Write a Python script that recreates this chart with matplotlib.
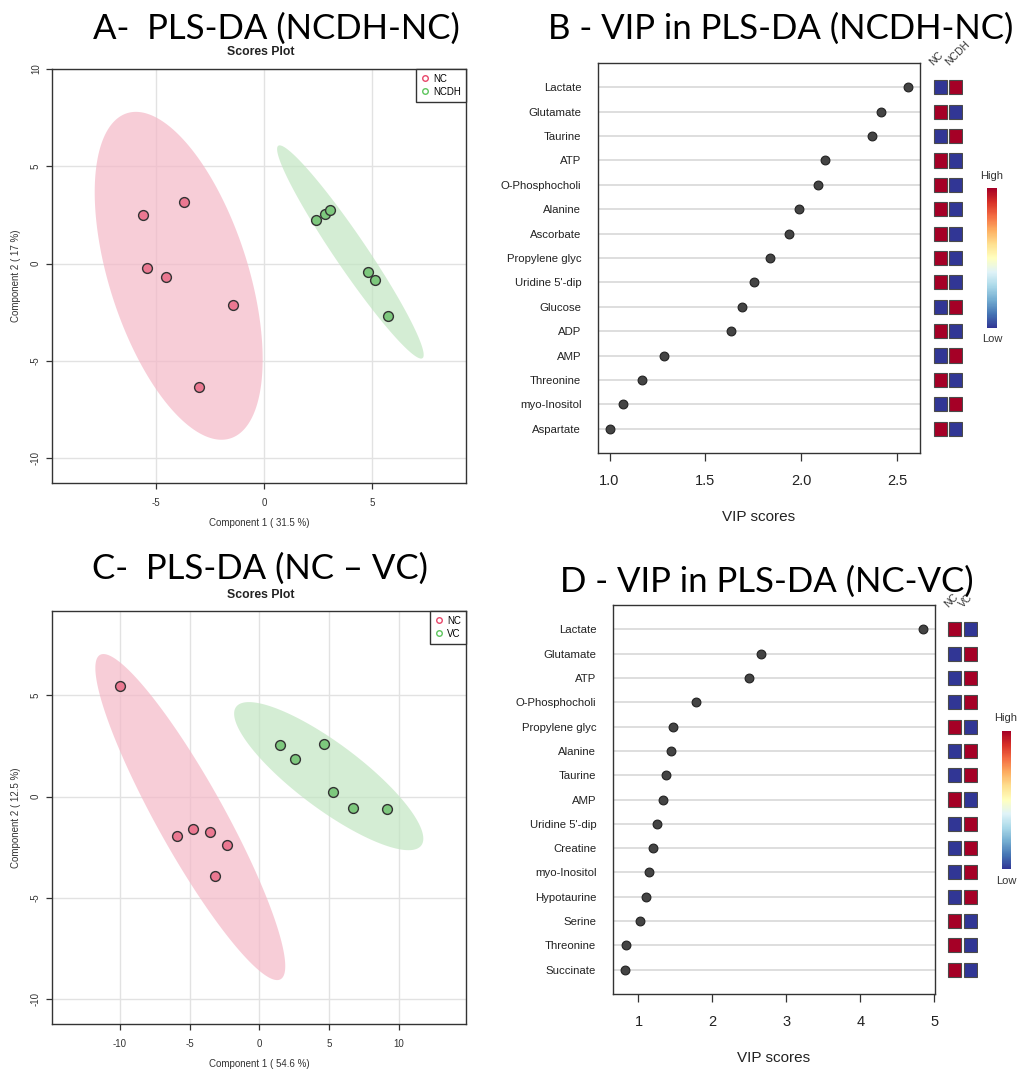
import numpy as np
import matplotlib
matplotlib.use("Agg")
import matplotlib.pyplot as plt
from matplotlib.patches import Rectangle
from matplotlib.lines import Line2D
from matplotlib.cm import ScalarMappable

# Scores (PLS-DA) panel A: NCDH vs NC
a_nc_x = [-5.60, -3.69, -5.43, -4.55, -1.43, -3.00]
a_nc_y = [2.48, 3.17, -0.24, -0.70, -2.14, -6.35]
a_ncdh_x = [2.41, 2.84, 3.06, 4.81, 5.12, 5.71]
a_ncdh_y = [2.24, 2.53, 2.76, -0.41, -0.86, -2.69]

# Scores panel C: NC vs VC
c_nc_x = [-10.02, -5.93, -4.73, -3.54, -2.32, -3.21]
c_nc_y = [5.48, -1.92, -1.59, -1.72, -2.38, -3.89]
c_vc_x = [1.48, 2.58, 4.63, 5.26, 6.69, 9.13]
c_vc_y = [2.53, 1.86, 2.60, 0.23, -0.54, -0.59]

# VIP panel B (top to bottom)
b_names = ["Lactate", "Glutamate", "Taurine", "ATP", "O-Phosphocholi", "Alanine",
           "Ascorbate", "Propylene glyc", "Uridine 5'-dip", "Glucose", "ADP", "AMP",
           "Threonine", "myo-Inositol", "Aspartate"]
b_vip = [2.557, 2.416, 2.368, 2.125, 2.088, 1.986, 1.934, 1.835, 1.754, 1.690,
         1.635, 1.284, 1.167, 1.071, 1.002]
b_groups = ["NC", "NCDH"]
b_nc_level = [0, 1, 0, 1, 1, 1, 1, 1, 1, 0, 1, 0, 1, 0, 1]      # 1 = high, 0 = low
b_ncdh_level = [1, 0, 1, 0, 0, 0, 0, 0, 0, 1, 0, 1, 0, 1, 0]

# VIP panel D (top to bottom)
d_names = ["Lactate", "Glutamate", "ATP", "O-Phosphocholi", "Propylene glyc", "Alanine",
           "Taurine", "AMP", "Uridine 5'-dip", "Creatine", "myo-Inositol", "Hypotaurine",
           "Serine", "Threonine", "Succinate"]
d_vip = [4.847, 2.659, 2.490, 1.784, 1.466, 1.437, 1.375, 1.332, 1.250, 1.192,
         1.139, 1.096, 1.024, 0.827, 0.817]
d_groups = ["NC", "VC"]
d_nc_level = [1, 0, 0, 0, 1, 0, 0, 1, 0, 0, 0, 0, 1, 1, 1]
d_vc_level = [0, 1, 1, 1, 0, 1, 1, 0, 1, 1, 1, 1, 0, 0, 0]

W, H = 1018, 1072
SMALL = ["Liberation Sans", "DejaVu Sans"]
BIG = ["Lato", "DejaVu Sans"]
PINK_PT, GREEN_PT = "#EB7891", "#7DC87D"
PINK_EL, GREEN_EL = "#F4B8C7", "#C2E6C2"
PINK_LG, GREEN_LG = "#E8476A", "#5DC55D"
CMAP = plt.get_cmap("RdYlBu_r")

fig = plt.figure(figsize=(W / 100, H / 100), dpi=100)


def px_axes(left, top, right, bottom):
    return fig.add_axes([left / W, 1 - bottom / H, (right - left) / W, (bottom - top) / H])


def px_text(x, y, s, **kw):
    kw.setdefault("family", SMALL)
    fig.text(x / W, 1 - y / H, s, **kw)


def conf_ellipse(x, y, level=0.95, n=240):
    pts = np.column_stack([x, y])
    mu = pts.mean(axis=0)
    L = np.linalg.cholesky(np.cov(pts.T))
    t = np.sqrt(-2 * np.log(1 - level))
    th = np.linspace(0, 2 * np.pi, n)
    e = mu[:, None] + t * L @ np.vstack([np.cos(th), np.sin(th)])
    return e[0], e[1]


def scores_panel(ax, g1, g2, names, xlim, ylim, xticks, yticks, xlab, ylab):
    for (x, y), el in zip([g1, g2], [PINK_EL, GREEN_EL]):
        ex, ey = conf_ellipse(x, y)
        ax.fill(ex, ey, color=el, alpha=0.7, lw=0, zorder=1)
    for (x, y), pt in zip([g1, g2], [PINK_PT, GREEN_PT]):
        ax.scatter(x, y, s=50, c=pt, edgecolors="#333333", linewidths=1.0, zorder=3)
    ax.set_xlim(xlim)
    ax.set_ylim(ylim)
    ax.set_xticks(xticks)
    ax.set_yticks(yticks)
    ax.set_xticklabels([str(v) for v in xticks])
    ax.set_yticklabels([str(v) for v in yticks], rotation=90, va="center")
    ax.grid(True, color="#e2e2e2", lw=1.0, zorder=0)
    ax.set_axisbelow(True)
    for sp in ax.spines.values():
        sp.set_color("#333333")
        sp.set_linewidth(1.0)
    ax.tick_params(length=4, width=0.9, color="#333333", labelsize=7,
                   labelcolor="#333333", pad=4)
    ax.tick_params(axis="x", pad=7)
    for lab in ax.get_xticklabels() + ax.get_yticklabels():
        lab.set_family(SMALL)
    ax.set_xlabel(xlab, fontsize=7, color="#333333", family=SMALL, labelpad=7)
    ax.set_ylabel(ylab, fontsize=7, color="#333333", family=SMALL, labelpad=7)
    handles = [Line2D([], [], ls="none", marker="o", mfc="none", mec=c, mew=1.0, ms=4)
               for c in [PINK_LG, GREEN_LG]]
    leg = ax.legend(handles, names, loc="upper right", borderaxespad=0, fancybox=False,
                    framealpha=1, edgecolor="#333333", prop={"family": SMALL, "size": 7},
                    handlelength=0.8, handletextpad=0.5, borderpad=0.5, labelspacing=0.3)
    leg.get_frame().set_linewidth(1.0)


def vip_panel(ax, hax, cax, names, vip, groups, levels, xticks, xlabels):
    rows = np.arange(len(names), 0, -1)
    ax.scatter(vip, rows, s=40, c="#444444", edgecolors="#222222", linewidths=0.8, zorder=3)
    lo, hi = min(vip), max(vip)
    pad = 0.04 * (hi - lo)
    ax.set_xlim(lo - pad, hi + pad)
    ax.set_ylim(0, len(names) + 1)
    ax.set_yticks(rows)
    ax.set_yticklabels(names, fontsize=8.2, color="#222222", family=SMALL)
    ax.set_xticks(xticks)
    ax.set_xticklabels(xlabels, fontsize=10.5, color="#222222", family=SMALL)
    ax.tick_params(axis="y", length=0, pad=12)
    ax.tick_params(axis="x", length=6, width=0.9, color="#333333", pad=9)
    ax.grid(True, axis="y", color="#d8d8d8", lw=1.2, zorder=0)
    ax.set_axisbelow(True)
    for sp in ax.spines.values():
        sp.set_color("#333333")
        sp.set_linewidth(1.0)
    ax.set_xlabel("VIP scores", fontsize=11, color="#222222", family=SMALL, labelpad=16)

    # group level heat squares
    hax.set_xlim(0, len(groups))
    hax.set_ylim(0, len(names) + 1)
    hax.axis("off")
    for j, lev in enumerate(levels):
        for r, v in zip(rows, lev):
            hax.add_patch(Rectangle((j + 0.07, r - 0.29), 0.86, 0.58,
                                    facecolor=CMAP(float(v)), edgecolor="#4a4a4a", lw=0.8))
        hax.text(j + 0.15, len(names) + 0.8, groups[j], rotation=45, ha="left",
                 va="bottom", rotation_mode="anchor", fontsize=7.5, color="#333333",
                 family=SMALL, clip_on=False)

    cb = fig.colorbar(ScalarMappable(cmap=CMAP), cax=cax)
    cb.set_ticks([])
    cb.outline.set_visible(False)


# ---- titles ----
px_text(93, 39, "A-  PLS-DA (NCDH-NC)", fontsize=25, family=BIG, va="baseline")
px_text(548, 39, "B - VIP in PLS-DA (NCDH-NC)", fontsize=25, family=BIG, va="baseline")
px_text(92, 579, "C-  PLS-DA (NC \u2013 VC)", fontsize=25, family=BIG, va="baseline")
px_text(560, 592, "D - VIP in PLS-DA (NC-VC)", fontsize=25, family=BIG, va="baseline")

# ---- panel A ----
axA = px_axes(52, 69, 466, 483)
scores_panel(axA, (a_nc_x, a_nc_y), (a_ncdh_x, a_ncdh_y), ["NC", "NCDH"],
             (-9.81, 9.34), (-11.28, 10.0), [-5, 0, 5], [-10, -5, 0, 5, 10],
             "Component 1 ( 31.5 %)", "Component 2 ( 17 %)")
px_text(261, 52, "Scores Plot", fontsize=8.8, weight="bold", ha="center", va="center",
        color="#222222")

# ---- panel C ----
axC = px_axes(52, 611, 466, 1024)
scores_panel(axC, (c_nc_x, c_nc_y), (c_vc_x, c_vc_y), ["NC", "VC"],
             (-14.87, 14.8), (-11.21, 9.16), [-10, -5, 0, 5, 10], [-10, -5, 0, 5],
             "Component 1 ( 54.6 %)", "Component 2 ( 12.5 %)")
px_text(261, 595, "Scores Plot", fontsize=8.8, weight="bold", ha="center", va="center",
        color="#222222")

# ---- panel B ----
axB = px_axes(598, 63, 920, 453)
hB = px_axes(932.5, 63, 963.5, 453)
cB = px_axes(987, 188, 997, 328)
vip_panel(axB, hB, cB, b_names, b_vip, b_groups, [b_nc_level, b_ncdh_level],
          [1.0, 1.5, 2.0, 2.5], ["1.0", "1.5", "2.0", "2.5"])
px_text(992, 176, "High", fontsize=8, ha="center", va="center", color="#333333")
px_text(992, 339, "Low", fontsize=8, ha="center", va="center", color="#333333")

# ---- panel D ----
axD = px_axes(613, 605, 935, 994)
hD = px_axes(947, 605, 978, 994)
cD = px_axes(1002, 731, 1011, 869)
vip_panel(axD, hD, cD, d_names, d_vip, d_groups, [d_nc_level, d_vc_level],
          [1, 2, 3, 4, 5], ["1", "2", "3", "4", "5"])
px_text(1006, 718, "High", fontsize=8, ha="center", va="center", color="#333333")
px_text(1006, 881, "Low", fontsize=8, ha="center", va="center", color="#333333")

fig.savefig("out.png", dpi=100, facecolor="white")
